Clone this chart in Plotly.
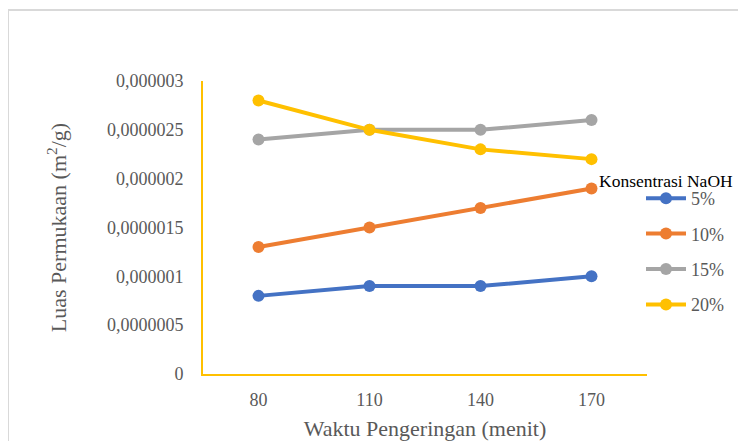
import plotly.graph_objects as go

categories = ["80", "110", "140", "170"]
series_names = ["5%", "10%", "15%", "20%"]
s5 = [8e-7, 9e-7, 9e-7, 1.0e-6]
s10 = [1.3e-6, 1.5e-6, 1.7e-6, 1.9e-6]
s15 = [2.4e-6, 2.5e-6, 2.5e-6, 2.6e-6]
s20 = [2.8e-6, 2.5e-6, 2.3e-6, 2.2e-6]
ytickvals = [0, 5e-7, 1e-6, 1.5e-6, 2e-6, 2.5e-6, 3e-6]
yticktext = ["0", "0,0000005", "0,000001", "0,0000015", "0,000002", "0,0000025", "0,000003"]
colors = ["#4472C4", "#ED7D31", "#A5A5A5", "#FFC000"]

OFF = 8  # page body margin
W, H = 746 - OFF, 441 - OFF
# page coordinates of the plot area
PL, PR, PT, PB = 203, 647, 81, 374
L, T = PL - OFF, PT - OFF
R = W - (PR - OFF)
B = H - (PB - OFF)
pw, ph = W - L - R, H - T - B

def px(x):
    return (x - OFF - L) / pw

def py(y):
    return 1 - (y - OFF - T) / ph

font_fam = "Liberation Serif"

fig = go.Figure()
for name, vals, c in zip(series_names, [s5, s10, s15, s20], colors):
    fig.add_trace(go.Scatter(
        x=categories, y=vals, name=name, mode="lines+markers",
        line=dict(color=c, width=4), marker=dict(color=c, size=12),
        legendgroup=name,
    ))

fig.update_layout(
    width=W, height=H,
    margin=dict(l=L, r=R, t=T, b=B, autoexpand=False),
    paper_bgcolor="white", plot_bgcolor="white",
    font=dict(family=font_fam, color="#595959"),
    showlegend=True,
    legend=dict(x=px(641), y=py(180), xanchor="left", yanchor="top",
                font=dict(family=font_fam, size=18, color="#595959"), tracegroupgap=9,
                itemwidth=40, bgcolor="rgba(0,0,0,0)"),
    xaxis=dict(type="category", range=[-0.5, 3.5], showline=True, linecolor="#FFC000",
               linewidth=2, showgrid=False, zeroline=False, ticks="outside",
               tickcolor="rgba(0,0,0,0)", ticklen=8, automargin=False,
               tickfont=dict(family=font_fam, size=18, color="#595959"),
               title=dict(text="Waktu Pengeringan (menit)",
                          font=dict(family=font_fam, size=22, color="#595959"), standoff=12)),
    yaxis=dict(range=[0, 3e-6], showline=True, linecolor="#FFC000", linewidth=2,
               showgrid=False, zeroline=False, tickvals=ytickvals, ticktext=yticktext,
               ticks="outside", tickcolor="rgba(0,0,0,0)", ticklen=14, automargin=False,
               tickfont=dict(family=font_fam, size=18, color="#595959"),
               title=dict(text="Luas Permukaan (m<sup>2</sup>/g)",
                          font=dict(family=font_fam, size=22, color="#595959"), standoff=34)),
)

fig.add_annotation(text="Konsentrasi NaOH", xref="paper", yref="paper",
                   x=px(597), y=py(181), xanchor="left", yanchor="middle",
                   showarrow=False, font=dict(size=17.5, color="#000000", family=font_fam))

# outer chart border (top and left visible)
fig.add_shape(type="line", xref="paper", yref="paper", x0=px(8), x1=px(760), y0=py(10), y1=py(10),
              line=dict(color="#D9D9D9", width=2))
fig.add_shape(type="line", xref="paper", yref="paper", x0=px(8), x1=px(8), y0=py(10), y1=py(460),
              line=dict(color="#D9D9D9", width=2))

fig.write_html("out.html")
